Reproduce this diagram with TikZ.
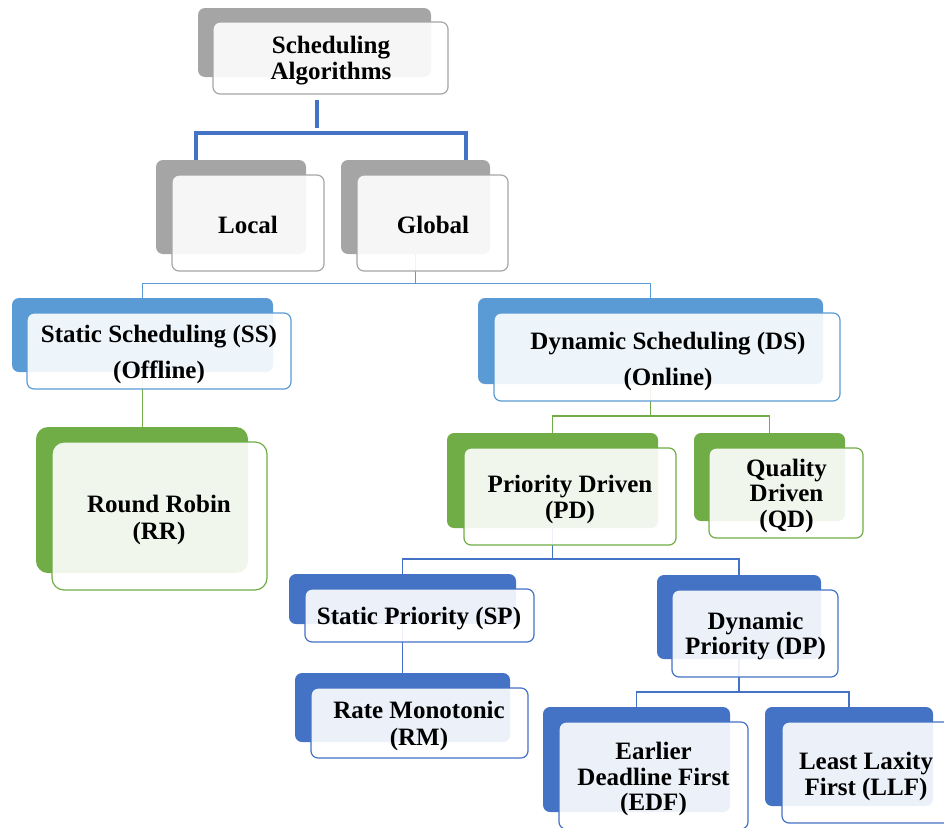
\documentclass[tikz,border=0pt]{standalone}
\usepackage{fontspec}
\setmainfont{Liberation Serif}
\definecolor{cgray}{HTML}{A5A5A5}
\definecolor{cgrayl}{HTML}{A6A6A6}
\definecolor{clblue}{HTML}{5B9BD5}
\definecolor{cgreen}{HTML}{70AD47}
\definecolor{cdblue}{HTML}{4472C4}
\newcommand\tb[6]{\node[#2, minimum width=#5, minimum height=#6] (#1) at (#3,#4) {};}
\begin{document}
\begin{tikzpicture}[x=1pt,y=-1pt,
  back/.style={rounded corners=7pt, inner sep=0pt, draw=none},
  front/.style={rounded corners=7pt, inner sep=0pt, fill=white, fill opacity=0.9, line width=1.2pt},
  gb/.style={back, fill=cgray}, gf/.style={front, draw=cgrayl},
  lb/.style={back, fill=clblue}, lf/.style={front, draw=clblue},
  eb/.style={back, fill=cgreen}, ef/.style={front, draw=cgreen},
  db/.style={back, fill=cdblue}, df/.style={front, draw=cdblue},
  txt/.style={inner sep=0pt, align=center, yshift=-2.5pt, font=\fontsize{25}{25.5}\selectfont\bfseries},
  conn/.style={line width=1.3pt},
  thick conn/.style={line width=4pt, draw=cdblue}]
\clip (0,0) rectangle (944,827);
% ---------- back boxes ----------
\tb{schedB}{gb}{314.5}{42.5}{233}{69}
\tb{localB}{gb}{231}{207}{150}{94}
\tb{globalB}{gb}{415.5}{207}{149}{94}
\tb{ssB}{lb}{142.5}{335}{261}{74}
\tb{rrB}{eb, rounded corners=12pt}{142}{500}{212}{146}
\tb{dsB}{lb}{650.5}{341}{345}{86}
\tb{pdB}{eb}{552.5}{480.5}{211}{95}
\tb{qdB}{eb}{769.5}{477}{151}{88}
\tb{spB}{db}{402.5}{599}{227}{50}
\tb{rmB}{db}{402.5}{707.5}{215}{69}
\tb{dpB}{db}{739}{617}{164}{84}
\tb{edfB}{db}{636.5}{759.5}{187}{105}
\tb{llfB}{db}{849}{756.5}{168}{99}
% ---------- connectors ----------
\coordinate (s1) at (317,100);
\coordinate (s2) at (317,128);
\draw[thick conn] (s1) -- (s2);
\coordinate (b1) at (196,160);
\coordinate (b2) at (466,160);
\draw[thick conn] (b1) -- (196,133) -- (466,133) -- (b2);
\coordinate (j1) at (415.5,283.5);
\draw[conn, draw=clblue] (globalB.south) -- (j1);
\draw[conn, draw=clblue] (ssB.north) |- (j1) -| (dsB.north);
\draw[conn, draw=cgreen] (ssB.south) -- (ssB.south |- rrB.north);
\coordinate (j2) at (650.5,416);
\draw[conn, draw=cgreen] (dsB.south) -- (j2);
\draw[conn, draw=cgreen] (pdB.north) |- (j2) -| (qdB.north);
\coordinate (j3) at (552.5,559);
\draw[conn, draw=cdblue] (pdB.south) -- (j3);
\draw[conn, draw=cdblue] (spB.north) |- (j3) -| (dpB.north);
\draw[conn, draw=cdblue] (spB.south) -- (spB.south |- rmB.north);
\coordinate (j4) at (739,692);
\draw[conn, draw=cdblue] (dpB.south) -- (j4);
\draw[conn, draw=cdblue] (edfB.north) |- (j4) -| (llfB.north);
% ---------- front boxes ----------
\tb{schedF}{gf}{330.5}{58}{235}{72}
\tb{localF}{gf}{248}{223}{152}{96}
\tb{globalF}{gf}{432.5}{223}{151}{96}
\tb{ssF}{lf}{159}{351}{264}{76}
\tb{rrF}{ef, rounded corners=12pt}{159.5}{516}{215}{148}
\tb{dsF}{lf}{667}{357}{346}{88}
\tb{pdF}{ef}{570}{496.5}{212}{97}
\tb{qdF}{ef}{786}{493}{154}{90}
\tb{spF}{df}{419.5}{615.5}{229}{53}
\tb{rmF}{df}{419.5}{723}{217}{70}
\tb{dpF}{df}{755}{633.5}{166}{87}
\tb{edfF}{df}{653.5}{775.5}{189}{107}
\tb{llfF}{df}{867}{772.5}{170}{101}
% ---------- texts ----------
\node[txt] (schedT) at (331,58) {Scheduling\\Algorithms};
\node[txt] (localT) at (248,222) {Local};
\node[txt] (globalT) at (433,222) {Global};
\node[txt] (ssT) at (159,352) {Static Scheduling (SS)\\[11pt](Offline)};
\node[txt] (rrT) at (159,517.5) {Round Robin\\[2pt](RR)};
\node[txt] (dsT) at (668,359) {Dynamic Scheduling (DS)\\[11pt](Online)};
\node[txt] (pdT) at (570,497) {Priority Driven\\(PD)};
\node[txt] (qdT) at (786.5,493) {Quality\\Driven\\(QD)};
\node[txt] (spT) at (419,616) {Static Priority (SP)};
\node[txt] (rmT) at (419,723.5) {Rate Monotonic\\[1pt](RM)};
\node[txt] (dpT) at (755.5,633.5) {Dynamic\\Priority (DP)};
\node[txt] (edfT) at (653.5,776.5) {Earlier\\Deadline First\\(EDF)};
\node[txt] (llfT) at (866,774) {Least Laxity\\First (LLF)};
\end{tikzpicture}
\end{document}
